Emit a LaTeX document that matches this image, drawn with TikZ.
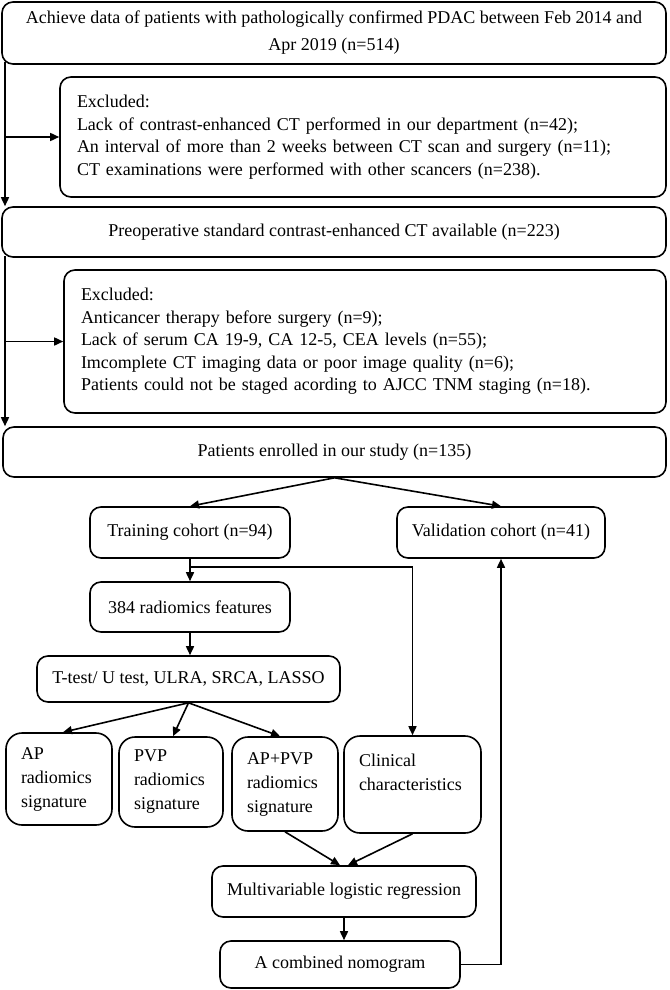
\documentclass[tikz,border=0pt]{standalone}
\usepackage{fontspec}
\setmainfont{Liberation Serif}
\usetikzlibrary{arrows.meta}
\begin{document}
\begin{tikzpicture}[x=1pt,y=-1pt,
  box/.style={draw, line width=1.6pt, rounded corners=11pt, inner ysep=0pt, font=\fontsize{18}{22.5}\selectfont},
  sbox/.style={box, rounded corners=16pt, align=left, inner xsep=15pt, font=\fontsize{18}{24}\selectfont},
  arr/.style={line width=1.6pt, -{Triangle[length=9pt,width=8pt]}},
  ln/.style={line width=1.6pt}]
\useasboundingbox (0,0) rectangle (669,990);

\node[box, minimum width=664pt, minimum height=62pt, align=center, font=\fontsize{18}{27}\selectfont] (b1) at (334,33)
  {Achieve data of patients with pathologically confirmed PDAC between Feb 2014 and\\Apr 2019 (n=514)};
\node[box, text width=572pt, inner xsep=17pt, minimum height=120pt, align=left] (b2) at (363,137)
  {Excluded:\\Lack of contrast-enhanced CT performed in our department (n=42);\\An interval of more than 2 weeks between CT scan and surgery (n=11);\\CT examinations were performed with other scancers (n=238).};
\node[box, minimum width=664pt, minimum height=50pt, align=center] (b3) at (334,232)
  {Preoperative standard contrast-enhanced CT available (n=223)};
\node[box, text width=568pt, inner xsep=17pt, minimum height=143pt, align=left] (b4) at (365,341.5)
  {Excluded:\\Anticancer therapy before surgery (n=9);\\Lack of serum CA 19-9, CA 12-5, CEA levels (n=55);\\Imcomplete CT imaging data or poor image quality (n=6);\\Patients could not be staged acording to AJCC TNM staging (n=18).};
\node[box, minimum width=663pt, minimum height=50pt, align=center] (b5) at (334.5,452)
  {Patients enrolled in our study (n=135)};

\node[box, minimum width=200pt, minimum height=51pt] (train) at (190,532.5) {Training cohort (n=94)};
\node[box, minimum width=208pt, minimum height=51pt] (valid) at (501,532.5) {Validation cohort (n=41)};
\node[box, minimum width=200pt, minimum height=50pt] (feat) at (190,607) {384 radiomics features};
\node[box, minimum width=303pt, minimum height=46pt] (ttest) at (188.5,679) {T-test/ U test, ULRA, SRCA, LASSO};

\node[sbox, text width=76pt, minimum height=92pt] (ap) at (59,779) {AP\\radiomics\\signature};
\node[sbox, text width=74pt, minimum height=90pt] (pvp) at (171,782) {PVP\\radiomics\\signature};
\node[sbox, text width=76pt, minimum height=94pt] (appvp) at (285,784) {AP+PVP\\radiomics\\signature};
\node[sbox, text width=107pt, minimum height=97pt] (clin) at (412.5,784.5) {Clinical\\characteristics\\\mbox{}};

\node[box, minimum width=264pt, minimum height=51pt] (mlr) at (344,891.5) {Multivariable logistic regression};
\node[box, minimum width=240pt, minimum height=47pt] (comb) at (340,964.5) {A combined nomogram};

% left trunk
\coordinate (s1) at (5,62);
\coordinate (s2) at (5,256);
\draw[arr] (s1) -- (s1 |- b3.north);
\draw[arr] (s1 |- b2.west) -- (b2.west);
\draw[arr] (s2) -- (s2 |- b5.north);
\draw[arr] (s2 |- b4.west) -- (b4.west);

% split
\draw[arr] (b5.south) -- (train.north);
\draw[arr] (b5.south) -- (valid.north);
\draw[arr] (train.south) -- (feat.north);
\coordinate (j) at (190,567);
\draw[arr] (j) -| (clin.north);
\draw[arr] (feat.south) -- (feat.south |- ttest.north);
\draw[arr] (ttest.south) -- ([xshift=4pt]ap.north);
\draw[arr] (ttest.south) -- ([xshift=2pt]pvp.north);
\draw[arr] (ttest.south) -- ([xshift=-5pt]appvp.north);
\draw[arr] (appvp.south) -- ([xshift=-4pt]mlr.north);
\draw[arr] (clin.south) -- ([xshift=4pt]mlr.north);
\draw[arr] (mlr.south) -- (mlr.south |- comb.north);
\draw[arr] (comb.east) -| (valid.south);
\end{tikzpicture}
\end{document}
